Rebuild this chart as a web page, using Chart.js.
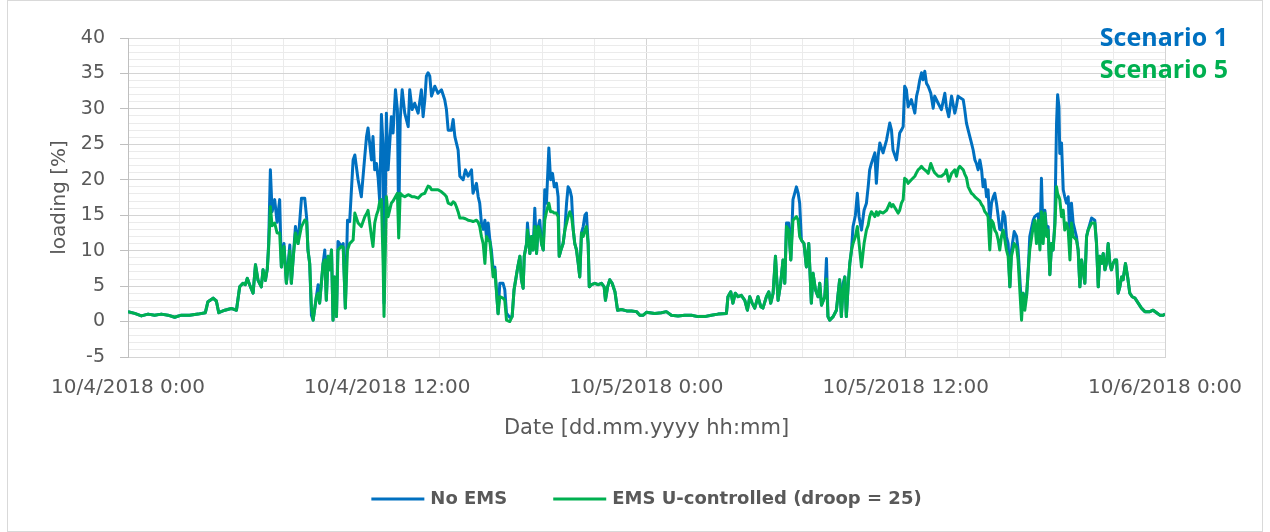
<!DOCTYPE html>
<html>
<head>
<meta charset="utf-8">
<script src="https://cdn.jsdelivr.net/npm/chart.js@4.4.0/dist/chart.umd.min.js"></script>
<style>
  html, body { margin: 0; padding: 0; background: #fff; }
  canvas { display: block; }
</style>
</head>
<body>
<canvas id="chart" width="1270" height="532"></canvas>
<script>
// hours after 10/4/2018 0:00
const hours = [
  0, 0.31, 0.62, 0.93, 1.23, 1.54, 1.85, 2.16, 2.47, 2.85, 3.24, 3.58, 3.70, 3.94, 4.09, 4.20, 4.48, 4.78, 5.02, 5.17, 5.32, 5.43, 5.52, 5.63, 5.79, 5.90,
  6.02, 6.17, 6.25, 6.36, 6.45, 6.51, 6.59, 6.67, 6.79, 6.90, 7.02, 7.10, 7.22, 7.33, 7.49, 7.56, 7.64, 7.75, 7.87, 8.03, 8.18, 8.27, 8.33, 8.41, 8.49, 8.57, 8.72, 8.80, 8.87, 9.03, 9.11, 9.18, 9.26, 9.34, 9.42, 9.49, 9.57, 9.65, 9.72, 9.88, 9.96, 10.06, 10.16, 10.26, 10.42, 10.50, 10.65, 10.80, 10.96, 11.04, 11.11, 11.27, 11.34, 11.42, 11.50, 11.58, 11.65, 11.73, 11.81, 11.85, 11.96,
  12.04, 12.19, 12.27, 12.38, 12.47, 12.53, 12.60, 12.69, 12.81, 12.97, 13.04, 13.15, 13.27, 13.43, 13.58, 13.66, 13.74, 13.81, 13.89, 13.97, 14.05, 14.20, 14.35, 14.51, 14.66, 14.74, 14.82, 14.97, 15.05, 15.13, 15.20, 15.28, 15.36, 15.51, 15.62, 15.74, 15.90, 15.97, 16.13, 16.21, 16.28, 16.36, 16.44, 16.52, 16.59, 16.67, 16.75, 16.82, 16.90, 16.98, 17.13, 17.21, 17.36, 17.44, 17.52, 17.67, 17.78, 17.87, 18.03,
  18.14, 18.21, 18.29, 18.34, 18.45, 18.49, 18.60, 18.68, 18.75, 18.83, 18.91, 18.99, 19.06, 19.14, 19.22, 19.29, 19.37, 19.48, 19.56, 19.65, 19.73, 19.83, 19.91, 19.96, 20.04, 20.14, 20.22, 20.30, 20.37, 20.45, 20.53, 20.61, 20.68, 20.76, 20.84, 20.91, 20.99, 21.07, 21.15, 21.22, 21.30, 21.35, 21.45, 21.61, 21.76, 21.92, 22.04, 22.10, 22.20, 22.30, 22.41, 22.54, 22.66, 22.84, 23.08, 23.31, 23.54, 23.69, 23.85, 24.00,
  24.38, 24.69, 24.92, 25.15, 25.46, 25.77, 26.08, 26.38, 26.69, 27.00, 27.31, 27.70, 27.77, 27.90, 28.00, 28.11, 28.24, 28.39, 28.55, 28.67, 28.78, 28.89, 29.01, 29.16, 29.29, 29.39, 29.55, 29.66, 29.75, 29.86, 29.97, 30.04,
  30.09, 30.21, 30.32, 30.40, 30.48, 30.58, 30.68, 30.78, 30.94, 31.02, 31.09, 31.17, 31.29, 31.40, 31.51, 31.63, 31.71, 31.82, 31.94, 32.02, 32.10, 32.25, 32.33, 32.40, 32.48, 32.64, 32.79, 32.94, 33.02, 33.10, 33.18, 33.25, 33.33, 33.41, 33.49, 33.56, 33.67, 33.76, 33.84, 33.95, 34.07, 34.18, 34.26, 34.33, 34.41, 34.57, 34.64, 34.72, 34.80, 34.95, 35.11, 35.26, 35.34, 35.41, 35.57, 35.65, 35.72, 35.80, 35.88, 35.95, 36.03, 36.11,
  36.26, 36.42, 36.50, 36.57, 36.65, 36.73, 36.80, 36.88, 36.96, 37.04, 37.16, 37.27, 37.34, 37.50, 37.65, 37.81, 37.88, 37.99, 38.12, 38.27, 38.35, 38.42, 38.50, 38.66, 38.73, 38.81, 38.89, 39.04, 39.12, 39.20, 39.27, 39.35, 39.43, 39.51, 39.58, 39.66, 39.74, 39.81, 39.89, 39.97, 40.05, 40.12, 40.20, 40.28, 40.35, 40.43, 40.51, 40.59, 40.66, 40.74, 40.82, 40.89, 41.02, 41.13, 41.20, 41.36, 41.43, 41.51, 41.59, 41.67, 41.74, 41.90, 41.97, 42.05, 42.13,
  42.21, 42.28, 42.36, 42.44, 42.52, 42.59, 42.67, 42.75, 42.82, 42.90, 42.98, 43.03, 43.09, 43.13, 43.21, 43.29, 43.36, 43.44, 43.52, 43.60, 43.67, 43.75, 43.90, 43.98, 44.06, 44.14, 44.29, 44.37, 44.44, 44.60, 44.75, 44.83, 44.91, 44.98, 45.06, 45.14, 45.22, 45.29, 45.37, 45.45, 45.52, 45.60, 45.68, 45.76, 45.83, 45.91, 45.99, 46.06, 46.17, 46.27, 46.37, 46.48, 46.61, 46.76, 46.91, 47.07, 47.30, 47.45, 47.61, 47.76, 47.92, 48.00
];

// No EMS (Scenario 1), loading in %
const noEms = [
  1.4, 1.15, 0.8, 1.05, 0.9, 1.05, 0.9, 0.6, 0.9, 0.9, 1.05, 1.25, 2.8, 3.3, 2.9, 1.25, 1.6, 1.85, 1.6, 4.9, 5.4, 5.2, 6.1, 5.2, 4.0, 8.0,
  5.8, 4.9, 7.3, 5.8, 7.5, 11, 21.4, 15.5, 17.2, 14, 17.2, 7.7, 11, 5.4, 10.8, 5.4, 8.7, 13.4, 11.0, 17.4, 17.4, 14.6, 10.1, 8.2, 0.9, 0.2, 3.5, 5.2, 2.6, 8.2, 10.1, 3.0, 9.2, 7.3, 10.1, 0.2, 6.3, 0.7, 11.3, 10.6, 11.0, 1.9, 14.3, 14.1, 22.8, 23.5, 20.0, 17.6, 23.3, 26.1, 27.3, 22.8, 26.1, 21.4, 22.3, 20.2, 17.0, 29.2, 24.7, 2.6, 29.4,
  21.4, 28.9, 26.6, 32.7, 29.9, 13.0, 28.5, 32.7, 29.4, 27.5, 32.7, 29.9, 30.8, 29.4, 32.7, 28.9, 31.3, 34.6, 35.1, 34.6, 31.8, 33.2, 32.2, 32.7, 31.3, 29.9, 27.0, 27.0, 28.5, 26.1, 25.2, 24.2, 20.5, 20.0, 21.4, 20.5, 21.4, 18.1, 19.5, 17.6, 16.7, 13.9, 13.0, 14.3, 12.0, 13.9, 11.5, 10.1, 7.3, 7.7, 1.1, 5.4, 5.4, 4.5, 1.2, 0.6, 0.7, 4.5, 7.5,
  9.2, 5.9, 4.7, 9.2, 11.0, 13.9, 9.6, 12.0, 10.1, 16.0, 9.6, 13.4, 14.3, 11.0, 10.1, 18.6, 16.7, 24.5, 20.0, 20.9, 19.0, 19.5, 17.6, 9.2, 10.1, 11.0, 12.9, 16.7, 19.0, 18.6, 17.6, 12.9, 11.0, 10.1, 8.2, 6.3, 12.5, 13.4, 15.0, 15.3, 11.0, 4.9, 5.2, 5.4, 5.2, 5.4, 4.9, 3.0, 4.9, 5.9, 5.4, 4.2, 1.6, 1.7, 1.5, 1.5, 1.4, 0.9, 0.9, 1.3,
  1.15, 1.25, 1.4, 0.9, 0.8, 0.9, 0.9, 0.7, 0.7, 0.9, 1.05, 1.15, 3.5, 4.2, 2.6, 4.0, 3.5, 3.7, 3.0, 1.6, 3.5, 2.6, 1.9, 3.5, 2.1, 1.9, 3.5, 4.2, 2.6, 4.0, 9.2, 5.4,
  3.0, 5.4, 8.7, 5.4, 13.9, 13.9, 8.7, 17.2, 19.0, 18.1, 16.7, 11.5, 11.0, 7.7, 11.0, 2.6, 6.8, 4.5, 3.5, 5.4, 2.3, 3.5, 8.9, 0.7, 0.2, 0.7, 1.6, 5.9, 0.7, 5.4, 6.3, 0.7, 4.9, 8.2, 10.1, 13.4, 15.0, 18.1, 14.8, 12.9, 15.7, 16.7, 19.0, 21.4, 22.3, 23.8, 19.5, 23.3, 25.2, 23.8, 25.6, 28.0, 27.0, 24.2, 22.8, 24.7, 26.6, 27.0, 27.5, 33.2, 32.7, 30.3,
  31.3, 29.4, 31.8, 32.7, 34.1, 35.1, 34.1, 35.3, 33.6, 33.2, 32.2, 30.1, 31.8, 30.8, 29.9, 32.2, 30.3, 28.9, 31.8, 29.4, 30.5, 31.8, 31.6, 31.3, 29.9, 28.0, 27.0, 25.2, 24.2, 22.8, 22.3, 21.4, 22.8, 21.4, 19.0, 20.0, 17.6, 18.6, 14.0, 16.7, 17.6, 18.1, 16.7, 14.8, 13.0, 12.9, 15.5, 14.8, 12.0, 11.0, 4.9, 10.0, 12.7, 12.0, 10.1, 2.1, 4.0, 3.5, 3.5, 7.3, 12.0, 14.3, 14.8, 15.0, 15.2,
  11.0, 20.2, 12.0, 15.7, 12.9, 13.4, 6.6, 11.0, 10.1, 13.9, 28.0, 32.0, 30.3, 23.7, 25.2, 18.6, 17.6, 16.7, 17.6, 11.0, 16.7, 13.9, 12.0, 10.1, 4.9, 8.7, 5.4, 12.0, 12.9, 14.6, 14.3, 11.0, 4.9, 9.2, 8.2, 9.6, 7.3, 8.2, 11.0, 8.2, 7.3, 8.2, 8.7, 8.7, 4.0, 4.9, 6.3, 5.9, 8.2, 6.3, 4.0, 3.5, 3.3, 2.6, 1.9, 1.4, 1.4, 1.6, 1.25, 0.9, 0.9, 1.05
];

// EMS U-controlled, droop = 25 (Scenario 5), loading in %
const emsU = [
  1.4, 1.15, 0.8, 1.05, 0.9, 1.05, 0.9, 0.6, 0.9, 0.9, 1.05, 1.25, 2.8, 3.3, 2.9, 1.25, 1.6, 1.85, 1.6, 4.9, 5.4, 5.2, 6.1, 5.2, 4.0, 8.0,
  5.8, 4.9, 7.3, 5.8, 7.5, 10.5, 16.2, 13.5, 13.9, 12.5, 12.5, 7.7, 10.6, 5.4, 10.0, 5.4, 8.7, 12.5, 11.0, 13.4, 14.3, 14.1, 10.1, 8.2, 2.1, 0.2, 3.5, 4.0, 2.6, 8.2, 8.7, 3.0, 9.2, 7.3, 10.1, 0.2, 6.3, 0.7, 10.1, 10.6, 10.5, 1.9, 10.1, 11.0, 11.5, 15.3, 13.9, 13.4, 14.8, 15.2, 15.7, 12.0, 10.6, 13.9, 15.0, 15.7, 16.9, 17.2, 8.0, 0.7, 17.6,
  14.8, 16.7, 17.0, 17.6, 18.1, 11.8, 18.1, 17.8, 17.6, 17.9, 17.8, 17.6, 17.6, 17.4, 17.9, 18.0, 18.1, 18.6, 19.1, 19.0, 18.6, 18.6, 18.6, 18.3, 17.9, 17.6, 16.7, 16.5, 16.9, 16.7, 16.2, 15.5, 14.6, 14.6, 14.5, 14.3, 14.2, 14.1, 14.3, 14.0, 13.4, 12.0, 11.0, 8.2, 12.0, 11.5, 11.3, 9.2, 6.3, 7.3, 1.1, 3.5, 3.3, 3.0, 0.2, 0.0, 0.7, 4.5, 7.5,
  9.2, 5.9, 4.7, 9.2, 11.0, 12.9, 9.6, 12.0, 10.1, 13.4, 9.6, 13.4, 12.9, 11.0, 10.1, 14.3, 15.5, 16.7, 15.5, 15.5, 15.3, 15.3, 14.8, 9.2, 10.1, 11.0, 12.9, 13.9, 14.8, 15.5, 14.8, 12.9, 11.0, 10.1, 8.2, 6.3, 12.5, 12.0, 12.9, 13.4, 11.0, 4.9, 5.2, 5.4, 5.2, 5.4, 4.9, 3.0, 4.9, 5.9, 5.4, 4.2, 1.6, 1.7, 1.5, 1.5, 1.4, 0.9, 0.9, 1.3,
  1.15, 1.25, 1.4, 0.9, 0.8, 0.9, 0.9, 0.7, 0.7, 0.9, 1.05, 1.15, 3.5, 4.2, 2.6, 4.0, 3.5, 3.7, 3.0, 1.6, 3.5, 2.6, 1.9, 3.5, 2.1, 1.9, 3.5, 4.2, 2.6, 4.0, 9.2, 5.4,
  3.0, 5.4, 8.7, 5.4, 13.4, 12.9, 8.7, 14.3, 14.8, 14.3, 12.0, 11.5, 11.0, 7.7, 11.0, 2.6, 6.8, 4.5, 3.5, 5.4, 2.3, 3.5, 6.0, 0.7, 0.2, 0.7, 1.6, 5.9, 0.7, 4.5, 6.3, 0.7, 4.9, 8.2, 10.1, 11.0, 12.0, 13.4, 11.0, 7.7, 11.0, 12.9, 13.6, 14.8, 15.5, 14.8, 15.5, 15.0, 15.5, 15.3, 15.7, 16.7, 16.2, 16.5, 15.7, 15.3, 15.7, 16.7, 17.2, 20.2, 20.0, 19.5,
  20.0, 20.5, 21.0, 21.4, 21.6, 21.9, 21.6, 21.4, 21.2, 20.9, 22.3, 21.4, 21.0, 20.5, 20.5, 20.9, 21.4, 19.8, 20.9, 21.4, 20.5, 21.5, 21.9, 21.4, 20.8, 20.3, 19.0, 18.1, 17.9, 17.6, 17.4, 17.2, 17.0, 16.5, 16.2, 15.5, 15.2, 14.8, 10.1, 14.3, 13.9, 12.9, 12.5, 11.5, 10.1, 12.0, 12.9, 11.5, 10.1, 9.2, 4.9, 9.2, 11.0, 10.5, 8.7, 0.2, 4.0, 1.6, 3.5, 7.3, 10.1, 13.4, 14.3, 11.0, 14.3,
  10.1, 15.5, 11.0, 15.3, 12.0, 12.9, 6.6, 11.0, 10.1, 13.4, 19.0, 18.0, 17.6, 17.2, 14.8, 15.7, 12.9, 13.9, 12.9, 8.7, 13.9, 12.0, 11.5, 10.1, 4.9, 8.7, 5.4, 12.0, 12.9, 13.9, 13.9, 11.0, 4.9, 9.2, 8.2, 9.6, 7.3, 8.2, 11.0, 8.2, 7.3, 8.2, 8.7, 8.7, 4.0, 4.9, 6.3, 5.9, 8.2, 6.3, 4.0, 3.5, 3.3, 2.6, 1.9, 1.4, 1.4, 1.6, 1.25, 0.9, 0.9, 1.05
];

const xTickLabels = ["10/4/2018 0:00", "10/4/2018 12:00", "10/5/2018 0:00", "10/5/2018 12:00", "10/6/2018 0:00"];
const seriesNames = ["No EMS", "EMS U-controlled (droop = 25)"];
const scenarioNames = ["Scenario 1", "Scenario 5"];

const blue = "#0070C0";
const green = "#00B050";
const textGrey = "#595959";
const font = "'DejaVu Sans', sans-serif";

const isMajorX = (v) => Math.abs(v / 12 - Math.round(v / 12)) < 1e-6;

// background, frame, scenario labels and legend
const decor = {
  id: "decor",
  beforeDraw(chart) {
    const ctx = chart.ctx;
    ctx.save();
    ctx.fillStyle = "#fff";
    ctx.fillRect(0, 0, chart.width, chart.height);
    ctx.strokeStyle = "#d9d9d9";
    ctx.lineWidth = 1;
    ctx.strokeRect(7.5, 0.5, chart.width - 15, chart.height - 1);
    ctx.restore();
  },
  afterDraw(chart) {
    const ctx = chart.ctx;
    const area = chart.chartArea;
    ctx.save();

    // scenario labels top right
    ctx.font = "bold 25px 'Open Sans', sans-serif";
    ctx.textAlign = "right";
    ctx.textBaseline = "alphabetic";
    ctx.fillStyle = blue;
    ctx.fillText(scenarioNames[0], 1228, 46);
    ctx.fillStyle = green;
    ctx.fillText(scenarioNames[1], 1228, 78);

    // legend
    const items = [
      { text: seriesNames[0], color: blue },
      { text: seriesNames[1], color: green },
    ];
    ctx.font = "bold 18px " + font;
    const lineW = 53, gap = 6, itemGap = 46, y = 499;
    let total = itemGap * (items.length - 1);
    items.forEach((it) => {
      it.w = ctx.measureText(it.text).width;
      total += lineW + gap + it.w;
    });
    let x = (area.left + area.right) / 2 - total / 2;
    ctx.textAlign = "left";
    ctx.textBaseline = "middle";
    items.forEach((it) => {
      ctx.strokeStyle = it.color;
      ctx.lineWidth = 3;
      ctx.beginPath();
      ctx.moveTo(x, y);
      ctx.lineTo(x + lineW, y);
      ctx.stroke();
      ctx.fillStyle = textGrey;
      ctx.fillText(it.text, x + lineW + gap, y);
      x += lineW + gap + it.w + itemGap;
    });
    ctx.restore();
  },
};

const ctx = document.getElementById("chart").getContext("2d");
const chart = new Chart(ctx, {
  type: "line",
  data: {
    datasets: [
      // green first so it is drawn on top of the blue line
      {
        label: seriesNames[1],
        data: hours.map((h, i) => ({ x: h, y: emsU[i] })),
        borderColor: green,
        backgroundColor: green,
        borderWidth: 3,
        borderJoinStyle: "round",
        pointRadius: 0,
        tension: 0,
      },
      {
        label: seriesNames[0],
        data: hours.map((h, i) => ({ x: h, y: noEms[i] })),
        borderColor: blue,
        backgroundColor: blue,
        borderWidth: 3,
        borderJoinStyle: "round",
        pointRadius: 0,
        tension: 0,
      },
    ],
  },
  options: {
    responsive: false,
    animation: false,
    devicePixelRatio: 1,
    layout: { padding: { left: 8, right: 105, top: 38, bottom: 0 } },
    plugins: {
      legend: { display: false },
      tooltip: { enabled: false },
    },
    scales: {
      x: {
        type: "linear",
        min: 0,
        max: 48,
        afterFit: (s) => { s.height = 175; },
        ticks: {
          stepSize: 2.4,
          autoSkip: false,
          maxRotation: 0,
          minRotation: 0,
          padding: 19,
          color: textGrey,
          font: { family: font, size: 20 },
          callback: (v) => (isMajorX(v) ? xTickLabels[Math.round(v / 12)] : ""),
        },
        grid: {
          drawTicks: false,
          color: (c) => (isMajorX(c.tick.value) ? "#d4d4d4" : "#ebebeb"),
        },
        border: { color: "#d4d4d4" },
        title: {
          display: true,
          text: "Date [dd.mm.yyyy hh:mm]",
          color: textGrey,
          font: { family: font, size: 21 },
          padding: { top: 0, bottom: 91 },
        },
      },
      y: {
        min: -5,
        max: 40,
        afterFit: (s) => { s.width = 120; },
        ticks: {
          stepSize: 1,
          maxTicksLimit: 100,
          autoSkip: false,
          padding: 15,
          color: textGrey,
          font: { family: font, size: 19 },
          callback: (v) => (v % 5 === 0 ? String(v) : ""),
        },
        grid: {
          tickLength: 8,
          color: (c) => (c.tick.value % 5 === 0 ? "#d4d4d4" : "#ebebeb"),
          tickColor: (c) => (c.tick.value % 5 === 0 ? "#bfbfbf" : "rgba(0,0,0,0)"),
        },
        border: { color: "#bfbfbf" },
        title: {
          display: true,
          text: "loading [%]",
          color: textGrey,
          font: { family: font, size: 20 },
          padding: { top: 40, bottom: 0 },
        },
      },
    },
  },
  plugins: [decor],
});
</script>
</body>
</html>
